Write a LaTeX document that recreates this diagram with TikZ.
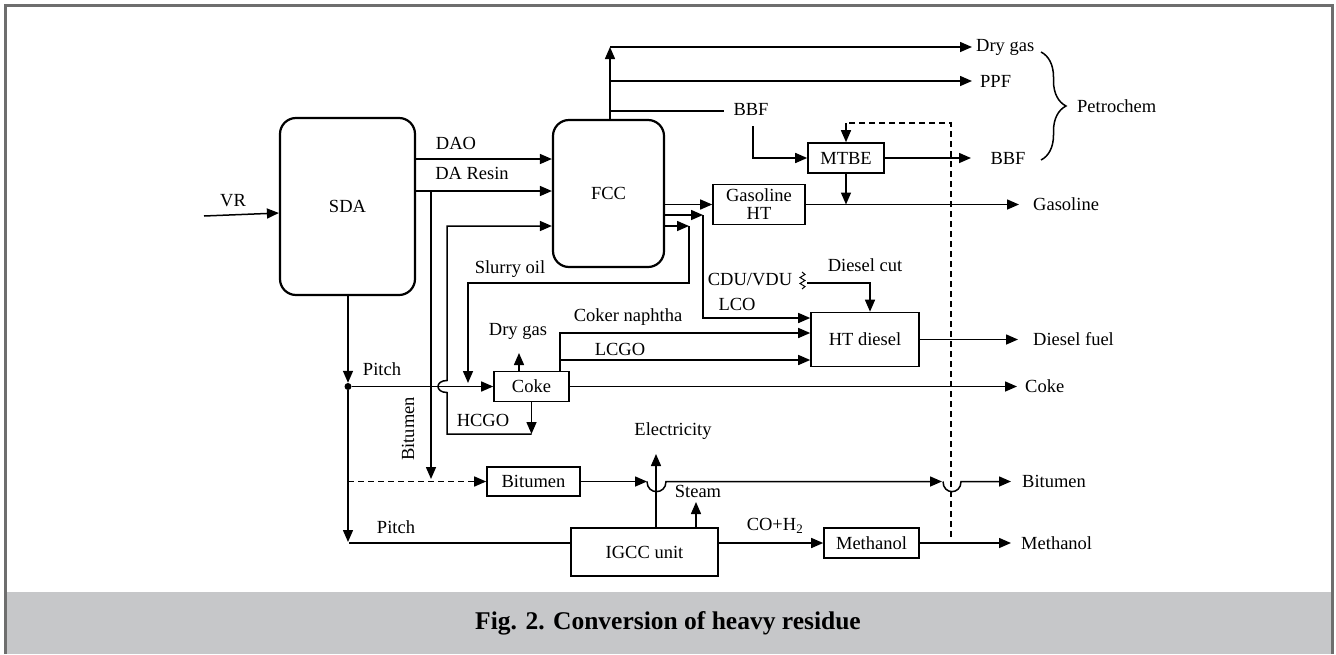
\documentclass[tikz,border=0pt]{standalone}
\usepackage{fontspec}
\setmainfont{Liberation Serif}
\usetikzlibrary{arrows.meta,decorations.pathreplacing}
\definecolor{capgray}{RGB}{198,199,201}
\definecolor{framegray}{RGB}{110,110,110}
\begin{document}
\begin{tikzpicture}[x=1pt,y=-1pt,
  lab/.style={font=\fontsize{18.5}{20}\selectfont, inner sep=0pt},
  box/.style={draw, line width=1.6pt, inner sep=0pt, align=center, font=\fontsize{18.5}{18}\selectfont},
  rbox/.style={box, rounded corners=16pt, line width=2.2pt},
  ln/.style={line width=1.5pt},
  arr/.style={ln, -{Triangle[length=12pt,width=10pt]}},
  dsh/.style={ln, dash pattern=on 6pt off 4pt},
]
\useasboundingbox (0,0) rectangle (1336,654);
% frame and caption band
\fill[capgray] (6,592) rectangle (1331,654);
\draw[framegray, line width=3pt] (5,654) -- (5,5) -- (1332,5) -- (1332,654);
\node[font=\bfseries\fontsize{25.5}{27}\selectfont, inner sep=0pt] (cap) at (668,623) {Fig. 2. Conversion of heavy residue};

% units
\node[rbox, minimum width=135pt, minimum height=177pt] (SDA) at (347.5,206.5) {SDA};
\node[rbox, minimum width=111pt, minimum height=147pt] (FCC) at (608.5,193.5) {FCC};
\node[box, minimum width=92pt, minimum height=40pt] (GHT) at (759,204.5) {Gasoline\\HT};
\node[box, minimum width=76pt, minimum height=30pt] (MTBE) at (846,158) {MTBE};
\node[box, minimum width=75pt, minimum height=30pt] (Coke) at (531.5,386.5) {Coke};
\node[box, minimum width=108pt, minimum height=54pt] (HTD) at (865,339.5) {HT diesel};
\node[box, minimum width=93pt, minimum height=29pt] (BitB) at (533.5,481.5) {Bitumen};
\node[box, minimum width=147pt, minimum height=48pt] (IGCC) at (644.5,552) {IGCC unit};
\node[box, minimum width=95pt, minimum height=30pt] (MeOH) at (871.5,543) {Methanol};
\node[circle, fill, inner sep=0pt, minimum size=7pt] (dot) at (348,386.5) {};

% feed
\coordinate (vr0) at (204,216);
\draw[arr] (vr0) -- (SDA.west |- 0,213);
% SDA -> FCC
\draw[arr] (SDA.east |- 0,159) -- (FCC.west |- 0,159);
\draw[arr] (SDA.east |- 0,191) -- (FCC.west |- 0,191);
\draw[arr] (431,191) -- (431,479);
% pitch
\draw[arr] (SDA.south -| dot) -- (dot.north);
\draw[arr] (dot) -- (Coke.west);
\draw[arr] (dot) -- (348,542);
\draw[ln] (349,543) -- (IGCC.west |- 0,543);
\draw[dsh, -{Triangle[length=12pt,width=10pt]}] (dot |- BitB.west) -- (BitB.west);
% HCGO recycle
\draw[arr] (Coke.south) -- (Coke.south |- 0,434);
\draw[arr] (Coke.south |- 0,434) -- (447,434) -- (447,392.5) .. controls (435,392.5) and (435,380.5) .. (447,380.5) -- (447,226) -- (FCC.west |- 0,226);
% FCC right outputs
\draw[arr] (FCC.east |- GHT.west) -- (GHT.west);
\draw[arr] (FCC.east |- 0,215) -- (703,215);
\draw[arr] (703,215) -- (703,318) -- (HTD.west |- 0,318);
\draw[arr] (FCC.east |- 0,226) -- (689,226);
\draw[arr] (689,226) -- (689,283) -- (468,283) -- (468,383);
% gasoline
\draw[arr] (GHT.east) -- (GHT.east -| 1019,0);
\draw[arr] (MTBE.south) -- (MTBE.south |- GHT.east);
% FCC top outputs
\draw[arr] (610,0 |- FCC.north) -- (610,47);
\draw[arr] (610,47) -- (972,47);
\draw[arr] (610,81) -- (972,81);
\draw[ln] (610,111) -- (724,111);
\draw[arr] (753,126) -- (753,158) -- (MTBE.west);
\draw[arr] (MTBE.east) -- (MTBE.east -| 971,0);
\draw[dsh] (951,537) -- (951,123) -- (MTBE.north |- 0,123);
\draw[arr] (MTBE.north |- 0,123) -- (MTBE.north);
% coker outputs
\draw[arr] (519,0 |- Coke.north) -- (519,353);
\draw[arr] (560,0 |- Coke.north) -- (560,333) -- (HTD.west |- 0,333);
\draw[arr] (560,360) -- (HTD.west |- 0,360);
\draw[arr] (Coke.east) -- (Coke.east -| 1017,0);
% diesel cut
\draw[line width=1pt] (802,272) -- (805,274.5) -- (800,277.5) -- (805,280.5) -- (800,283.5) -- (805,286.5) -- (802,289);
\draw[arr] (807,283) -- (870,283) -- (870,0 |- HTD.north);
\draw[arr] (HTD.east) -- (HTD.east -| 1018,0);
% IGCC
\draw[arr] (656,0 |- IGCC.north) -- (656,454);
\draw[arr] (696,0 |- IGCC.north) -- (696,502);
\draw[arr] (IGCC.east |- MeOH.west) -- (MeOH.west);
\draw[arr] (MeOH.east) -- (MeOH.east -| 1011,0);
% bitumen out
\draw[arr] (BitB.east) -- (BitB.east -| 647,0);
\draw[arr] (647,481.5) .. controls (647,495) and (666,495) .. (666,481.5) -- (942,481.5);
\draw[arr] (943,481.5) .. controls (943,495) and (961,495) .. (961,481.5) -- (1011,481.5);
% brace
\draw[ln, decorate, decoration={brace, amplitude=25pt}] (1041,52) -- (1041,160);

% labels
\node[lab] (tVR) at (233,201) {VR};
\node[lab] (tDAO) at (456,143) {DAO};
\node[lab] (tDAR) at (472,173) {DA Resin};
\node[lab] (tSlurry) at (510,269) {Slurry oil};
\node[lab] (tPitch1) at (382,369) {Pitch};
\node[lab] (tDry2) at (518,331) {Dry gas};
\node[lab] (tCN) at (628,317) {Coker naphtha};
\node[lab] (tLCGO) at (620,349) {LCGO};
\node[lab] (tHCGO) at (483,420) {HCGO};
\node[lab, rotate=90] (tBitV) at (408,429) {Bitumen};
\node[lab] (tElec) at (673,431) {Electricity};
\node[lab] (tSteam) at (698,491) {Steam};
\node[lab] (tPitch2) at (396,527) {Pitch};
\node[lab] (tCO) at (775,526) {CO+H\textsubscript{2}};
\node[lab] (tCDU) at (750,280) {CDU/VDU};
\node[lab] (tDC) at (865,265) {Diesel cut};
\node[lab] (tLCO) at (737,304) {LCO};
\node[lab] (tBBF1) at (751,109) {BBF};
\node[lab, anchor=west] (tDry) at (976,47) {Dry gas};
\node[lab, anchor=west] (tPPF) at (980,81) {PPF};
\node[lab] (tBBF2) at (1008,158) {BBF};
\node[lab, anchor=west] (tPet) at (1077,106) {Petrochem};
\node[lab, anchor=west] (tGas) at (1033,204) {Gasoline};
\node[lab, anchor=west] (tDF) at (1033,339) {Diesel fuel};
\node[lab, anchor=west] (tCoke) at (1025,386.5) {Coke};
\node[lab, anchor=west] (tBit) at (1022,481.5) {Bitumen};
\node[lab, anchor=west] (tMeOH) at (1021,543) {Methanol};
\end{tikzpicture}
\end{document}
